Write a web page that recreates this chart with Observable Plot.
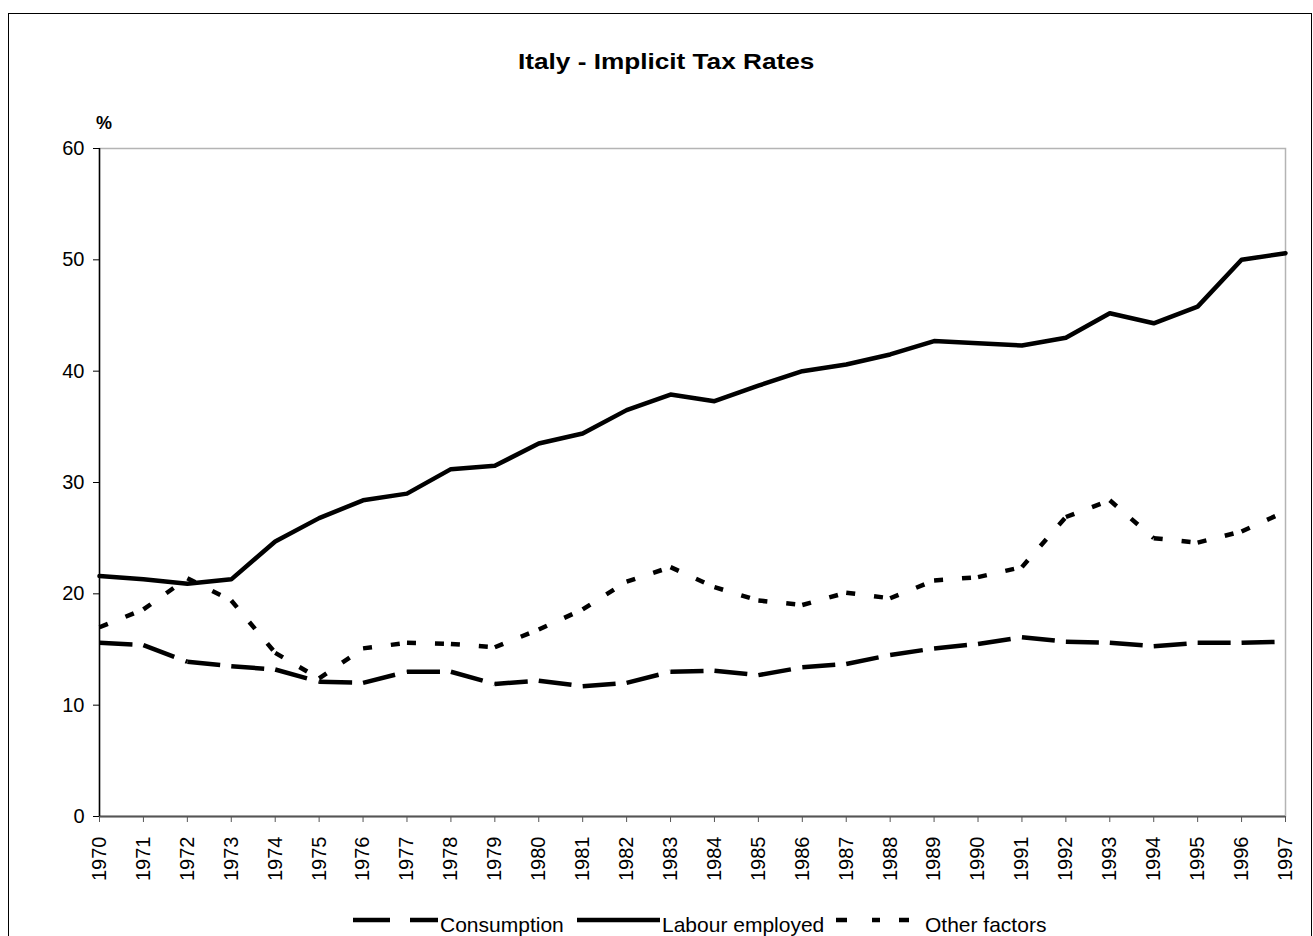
<!DOCTYPE html>
<html>
<head>
<meta charset="utf-8">
<script src="https://cdn.jsdelivr.net/npm/d3@7"></script>
<script src="https://cdn.jsdelivr.net/npm/@observablehq/plot@0.6"></script>
<style>
  html, body { margin: 0; padding: 0; background: #fff; }
  #wrap { position: relative; width: 1313px; height: 936px; overflow: hidden; font-family: Arial, "Liberation Sans", sans-serif; }
  #border { position: absolute; left: 8px; top: 13px; width: 1304px; height: 940px; border: 1.5px solid #000; box-sizing: border-box; }
  #title { position: absolute; left: 518px; top: 49px; font-weight: bold; font-size: 22px; line-height: 26px; white-space: nowrap; transform: scaleX(1.19); transform-origin: left top; }
  #unit { position: absolute; left: 96px; top: 113px; font-weight: bold; font-size: 18px; }
  #chart { position: absolute; left: 0; top: 0; }
  #legend { position: absolute; left: 0; top: 900px; }
</style>
</head>
<body>
<div id="wrap">
  <div id="border"></div>
  <div id="chart"></div>
  <div id="title">Italy - Implicit Tax Rates</div>
  <div id="unit">%</div>
  <div id="legend"></div>
</div>
<script>
const years = [1970,1971,1972,1973,1974,1975,1976,1977,1978,1979,1980,1981,1982,1983,1984,1985,1986,1987,1988,1989,1990,1991,1992,1993,1994,1995,1996,1997];
const consumption = [15.6,15.4,13.9,13.5,13.2,12.1,12.0,13.0,13.0,11.9,12.2,11.7,12.0,13.0,13.1,12.7,13.4,13.7,14.5,15.1,15.5,16.1,15.7,15.6,15.3,15.6,15.6,15.7];
const labour = [21.6,21.3,20.9,21.3,24.7,26.8,28.4,29.0,31.2,31.5,33.5,34.4,36.5,37.9,37.3,38.7,40.0,40.6,41.5,42.7,42.5,42.3,43.0,45.2,44.3,45.8,50.0,50.6];
const otherFactors = [17.0,18.6,21.4,19.4,14.7,12.4,15.1,15.6,15.5,15.2,16.8,18.6,21.1,22.4,20.6,19.4,19.0,20.1,19.6,21.2,21.5,22.4,26.9,28.4,25.0,24.6,25.6,27.4];
const yTicks = [0,10,20,30,40,50,60];
const seriesNames = ["Consumption","Labour employed","Other factors"];

const labourData = years.map((x, i) => ({x, y: labour[i]}));
const segs = vals => years.slice(0, -1).map((x, i) => ({x1: x, y1: vals[i], x2: years[i+1], y2: vals[i+1]}));

const chart = Plot.plot({
  width: 1313,
  height: 936,
  marginLeft: 99,
  marginRight: 28,
  marginTop: 148,
  marginBottom: 120,
  style: {fontFamily: "Arial, 'Liberation Sans', sans-serif", background: "transparent", color: "#000"},
  x: {domain: [1970, 1997]},
  y: {domain: [0, 60]},
  marks: [
    Plot.frame({stroke: "#b4b4b4", strokeWidth: 1.5}),
    Plot.axisY({ticks: yTicks, tickSize: 6, tickPadding: 9, label: null, fontSize: 20}),
    Plot.axisX({ticks: years, tickFormat: d => String(d), tickRotate: -90, tickSize: 6, tickPadding: 14, label: null, fontSize: 20, stroke: "#555"}),
    Plot.ruleY([0], {stroke: "#555", strokeWidth: 2}),
    Plot.ruleX([1970], {stroke: "#000", strokeWidth: 1.5}),
    Plot.link(segs(consumption), {x1: "x1", y1: "y1", x2: "x2", y2: "y2", stroke: "#000", strokeWidth: 4.5, strokeDasharray: "33,12"}),
    Plot.line(labourData, {x: "x", y: "y", stroke: "#000", strokeWidth: 4.5, strokeLinejoin: "round"}),
    Plot.link(segs(otherFactors), {x1: "x1", y1: "y1", x2: "x2", y2: "y2", stroke: "#000", strokeWidth: 4.5, strokeDasharray: "9,19"})
  ]
});
document.getElementById("chart").appendChild(chart);

// legend
const lg = d3.select("#legend").append("svg").attr("width", 1313).attr("height", 36);
const items = [
  {name: seriesNames[0], x0: 353, x1: 438, tx: 440, dash: "37,20"},
  {name: seriesNames[1], x0: 577, x1: 660, tx: 662, dash: null},
  {name: seriesNames[2], x0: 836, x1: 909, tx: 925, dash: "11,25,8,19,10,40"}
];
const ly = 20;
items.forEach(it => {
  const l = lg.append("line").attr("x1", it.x0).attr("x2", it.x1).attr("y1", ly).attr("y2", ly)
    .attr("stroke", "#000").attr("stroke-width", 4.5);
  if (it.dash) l.attr("stroke-dasharray", it.dash);
  lg.append("text").attr("x", it.tx).attr("y", 32)
    .attr("font-family", "Arial, 'Liberation Sans', sans-serif").attr("font-size", 21).text(it.name);
});
</script>
</body>
</html>
